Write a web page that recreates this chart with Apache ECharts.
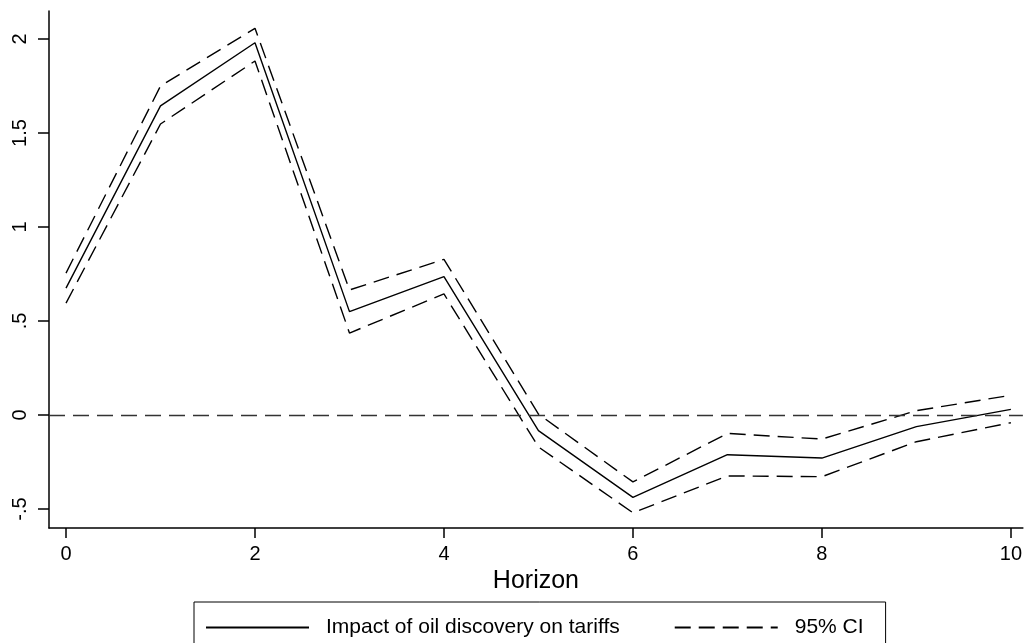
<!DOCTYPE html>
<html>
<head>
<meta charset="utf-8">
<script src="https://cdn.jsdelivr.net/npm/echarts@6/dist/echarts.min.js"></script>
<style>
html,body{margin:0;padding:0;background:#fff;}
#chart{width:1025px;height:643px;}
</style>
</head>
<body>
<div id="chart"></div>
<script>
const horizon = [0, 1, 2, 3, 4, 5, 6, 7, 8, 9, 10];
const impact  = [0.675, 1.644, 1.98, 0.55, 0.736, -0.083, -0.438, -0.211, -0.229, -0.062, 0.030];
const ciUpper = [0.755, 1.75, 2.057, 0.665, 0.828, 0.005, -0.356, -0.098, -0.128, 0.023, 0.105];
const ciLower = [0.595, 1.548, 1.883, 0.436, 0.644, -0.17, -0.52, -0.324, -0.328, -0.142, -0.041];
const xTickValues = [0, 2, 4, 6, 8, 10];
const yTickValues = [-0.5, 0, 0.5, 1, 1.5, 2];
const yTickLabels = ['-.5', '0', '.5', '1', '1.5', '2'];
const seriesNames = ['Impact of oil discovery on tariffs', '95% CI'];
const xAxisTitle = 'Horizon';

const pairs = (ys) => horizon.map((x, i) => [x, ys[i]]);
const FONT = '"Liberation Sans", Arial, sans-serif';

const chart = echarts.init(document.getElementById('chart'), null, {renderer: 'canvas'});
chart.setOption({
  animation: false,
  backgroundColor: '#fff',
  textStyle: {fontFamily: FONT},
  grid: {left: 49, right: 1, top: 11, bottom: 115, containLabel: false},
  xAxis: {
    type: 'value', min: -0.18, max: 10.127,
    name: xAxisTitle, nameLocation: 'middle', nameGap: 31,
    nameTextStyle: {fontSize: 25, color: '#000', fontFamily: FONT},
    axisLine: {show: true, onZero: false, lineStyle: {color: '#000', width: 1.5}},
    axisTick: {show: true, length: 10, customValues: xTickValues, lineStyle: {color: '#000', width: 1.5}},
    axisLabel: {customValues: xTickValues, fontSize: 20, color: '#000', margin: 16, fontFamily: FONT},
    splitLine: {show: false}
  },
  yAxis: {
    type: 'value', min: -0.601, max: 2.149,
    axisLine: {show: true, onZero: false, lineStyle: {color: '#000', width: 1.5}},
    axisTick: {show: true, length: 11, customValues: yTickValues, lineStyle: {color: '#000', width: 1.5}},
    axisLabel: {
      customValues: yTickValues, rotate: 90, fontSize: 20, color: '#000', margin: 19, fontFamily: FONT,
      formatter: (v) => { const i = yTickValues.findIndex(t => Math.abs(t - v) < 1e-9); return i >= 0 ? yTickLabels[i] : ''; }
    },
    splitLine: {show: false}
  },
  legend: {
    left: 194, top: 602,
    data: seriesNames,
    orient: 'horizontal',
    itemWidth: 103, itemHeight: 14, itemGap: 54,
    itemStyle: {opacity: 0},
    borderColor: '#000', borderWidth: 1, borderRadius: 0,
    padding: [15, 22, 15, 11],
    textStyle: {fontSize: 21, color: '#000', fontFamily: FONT, padding: [0, 0, 0, 12]},
    selectedMode: false
  },
  series: [
    {
      name: seriesNames[0], type: 'line', data: pairs(impact),
      symbol: 'none', lineStyle: {color: '#000', width: 1.4, type: 'solid'},
      itemStyle: {color: '#000'},
      markLine: {
        silent: true, symbol: 'none', label: {show: false},
        lineStyle: {color: '#333', width: 1.4, type: [16, 8]},
        data: [{yAxis: 0}]
      }
    },
    {
      name: seriesNames[1], type: 'line', data: pairs(ciUpper),
      symbol: 'none', lineStyle: {color: '#000', width: 1.4, type: [16, 8]},
      itemStyle: {color: '#000'}
    },
    {
      name: seriesNames[1], type: 'line', data: pairs(ciLower),
      symbol: 'none', lineStyle: {color: '#000', width: 1.4, type: [16, 8]},
      itemStyle: {color: '#000'}
    }
  ]
});
</script>
</body>
</html>
